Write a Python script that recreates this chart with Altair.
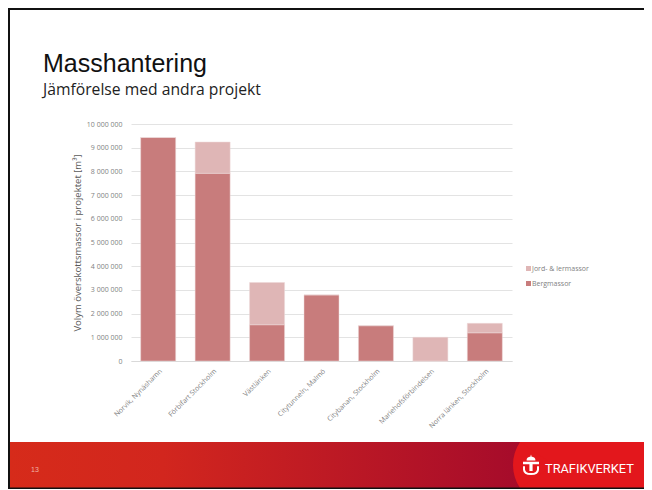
import altair as alt
import pandas as pd

categories = ["Norvik, Nynäshamn", "Förbifart Stockholm", "Västlänken", "Citytunneln, Malmö",
              "Citybanan, Stockholm", "Mariehofsförbindelsen", "Norra länken, Stockholm"]
berg = [9430000, 7920000, 1530000, 2790000, 1490000, 0, 1190000]
jord = [0, 1320000, 1780000, 0, 0, 1000000, 400000]
series = ["Jord- & lermassor", "Bergmassor"]
colors = ["#dfb6b6", "#c87c7c"]
y_ticks = list(range(0, 10000001, 1000000))

rows = []
for c, b, j in zip(categories, berg, jord):
    rows.append({"projekt": c, "serie": series[1], "volym": b, "ord": 0})
    rows.append({"projekt": c, "serie": series[0], "volym": j, "ord": 1})
df = pd.DataFrame(rows)

OX, OY = 123, 116   # plot origin inside the page svg
PW, PH = 381, 237
FONT = "Open Sans"
one = pd.DataFrame({"a": [0]})


def px(v):
    return alt.value(v - 8 - OX)


def py(v):
    return alt.value(v - 8 - OY)


bars = alt.Chart(df).mark_bar(size=35, stroke="#ecd8d8", strokeWidth=0.5).encode(
    x=alt.X("projekt:N", sort=categories, scale=alt.Scale(paddingInner=0.357, paddingOuter=0.178),
            axis=alt.Axis(title=None, labelAngle=-45, labelFontSize=7, labelColor="#7f7f7f", labelFont=FONT,
                          ticks=False, domainColor="#d9d9d9", labelPadding=6, grid=False, labelLimit=120)),
    y=alt.Y("sum(volym):Q", scale=alt.Scale(domain=[0, 10000000], nice=False),
            axis=alt.Axis(title="Volym överskottsmassor i projektet [m³]", titleFontSize=9.5, titleFontWeight="normal",
                          titleColor="#595959", titleFont=FONT, titleX=-54, titleY=118.5, titleBaseline="middle",
                          values=y_ticks, grid=True,
                          gridColor="#e3e3e3", domain=False, ticks=False, labelFontSize=7, labelColor="#7f7f7f",
                          labelFont=FONT, labelPadding=9,
                          labelExpr="replace(format(datum.value, ','), /,/g, ' ')")),
    color=alt.Color("serie:N", scale=alt.Scale(domain=series, range=colors),
                    legend=alt.Legend(title=None, orient="none", legendX=525 - 8 - OX, legendY=265 - 8 - OY,
                                      symbolType="square", symbolSize=25, symbolStrokeWidth=0, labelFontSize=7,
                                      labelColor="#7f7f7f", labelFont=FONT, labelOffset=0, rowPadding=7, padding=0)),
    order=alt.Order("ord:Q", sort="ascending"),
)

footer = alt.Chart(one).mark_rect(
    color=alt.Gradient(gradient="linear", x1=0, x2=1, y1=0, y2=0,
                       stops=[alt.GradientStop(offset=0, color="#d62b1a"),
                              alt.GradientStop(offset=0.3, color="#d2261e"),
                              alt.GradientStop(offset=1, color="#a50b2b")])
).encode(x=px(8), x2=px(525), y=py(442), y2=py(488))

brand = alt.Chart(one).mark_rect(color="#e3171c").encode(x=px(520), x2=px(652), y=py(442), y2=py(488))
brand_arc = alt.Chart(one).mark_arc(color="#e3171c", radius=41, theta=4.117, theta2=5.307).encode(x=px(554), y=py(465))

frame_top = alt.Chart(one).mark_rule(color="#111111", strokeWidth=2).encode(x=px(8), x2=px(652), y=py(9))
frame_left = alt.Chart(one).mark_rule(color="#111111", strokeWidth=2).encode(x=px(9), y=py(8), y2=py(489))
frame_bottom = alt.Chart(one).mark_rule(color="#111111", strokeWidth=1.5).encode(x=px(8), x2=px(652), y=py(488.2))


def label(text, x, y, size, color, font, weight="normal"):
    return alt.Chart(pd.DataFrame({"t": [text]})).mark_text(
        align="left", baseline="alphabetic", fontSize=size, color=color, font=font, fontWeight=weight
    ).encode(text="t:N", x=px(x), y=py(y))


title = label("Masshantering", 43, 72, 25, "#111111", "Liberation Sans")
subtitle = label("Jämförelse med andra projekt", 43, 95, 15.7, "#222222", FONT)
page = label("13", 31, 472, 7, "#f0b5a5", "Liberation Sans")
logo = label("TRAFIKVERKET", 545, 473, 12.8, "#ffffff", "Roboto")
crest = ("M-0.55 -0.55 Q-0.6 -1 0 -1.05 Q0.6 -1 0.55 -0.55 Z "
         "M-0.08 -1.05 L0 -1.3 L0.08 -1.05 Z "
         "M-1 -0.42 L1 -0.42 L1 -0.1 L-1 -0.1 Z "
         "M-0.2 -0.1 L0.2 -0.1 L0.2 0.75 L-0.2 0.75 Z "
         "M-1 0.15 L-0.75 0.15 L-0.75 0.55 Q-0.7 1 0 1 Q0.7 1 0.75 0.55 L0.75 0.15 L1 0.15 L1 0.6 "
         "Q0.95 1.25 0 1.25 Q-0.95 1.25 -1 0.6 Z")
crown = alt.Chart(one).mark_point(shape=crest, size=256, filled=True, color="#ffffff", opacity=1, strokeWidth=0).encode(
    x=px(531), y=py(465))

chart = alt.layer(footer, brand, brand_arc, frame_top, frame_left, frame_bottom, bars, title, subtitle, page, crown, logo).properties(
    width=PW, height=PH,
    autosize=alt.AutoSizeParams(type="none"),
    padding={"left": OX, "top": OY, "right": 636 - OX - PW, "bottom": 481 - OY - PH},
).configure_view(stroke=None)

chart.save("out.html", embed_options={"renderer": "svg", "actions": False})
